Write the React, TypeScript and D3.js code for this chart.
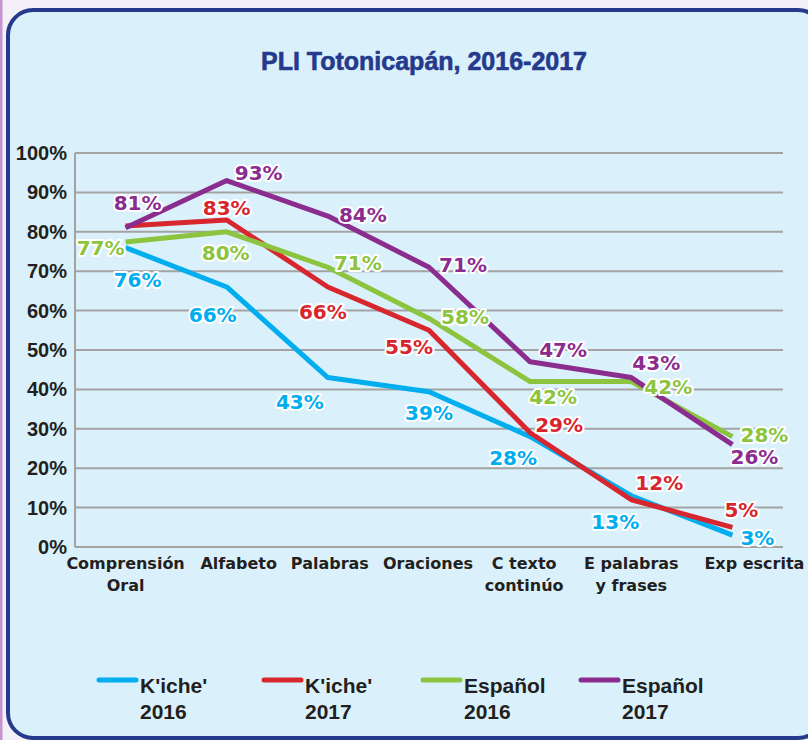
import React, {useEffect, useRef} from "react"
import * as d3 from "d3"

// categorias (lineas de cada etiqueta)
const categories = ["Comprensión Oral", "Alfabeto", "Palabras", "Oraciones", "C texto continúo", "E palabras y frases", "Exp escrita"]
const categoryLines = [["Comprensión", "Oral"], ["Alfabeto"], ["Palabras"], ["Oraciones"], ["C texto", "continúo"], ["E palabras", "y frases"], ["Exp escrita"]]
const categoryDx = [0, 12, 2, -1, -6, 0, 22] // ajuste horizontal de las etiquetas

// valores en %
const kiche2016 = [76, 66, 43, 39.4, 28, 13, 3]
const kiche2017 = [81.5, 83, 66, 55, 29, 12, 5]
const espanol2016 = [77.4, 80, 71, 58, 42, 42, 28]
const espanol2017 = [81, 93, 84, 71, 47, 43, 26]

const yTicks = [0, 10, 20, 30, 40, 50, 60, 70, 80, 90, 100]
const seriesNames = ["K'iche' 2016", "K'iche' 2017", "Español 2016", "Español 2017"]

// desplazamiento de las etiquetas (px) respecto al punto
const offsets: (number[] | null)[][] = [
    [[12, 32], [-14, 28], [-28, 24], [0, 21], [-17, 21], [-16, 26], [25, 3]],
    [null, [0, -12], [-5, 25], [-20, 17], [29, -8], [28, -17], [9, -17]],
    [[-25, 6], [-1, 21], [30, -4], [36, -1], [23, 15], [37, 5], [32, -2]],
    [[12, -25], [32, -8], [35, -1], [34, -2], [33, -12], [25, -15], [22, 12]],
]
const colors = ["#00aeef", "#d7262e", "#8cc43f", "#8b2c8f"]

export default function App() {
    const ref = useRef<SVGSVGElement>(null)

    useEffect(() => {
        const svg = d3.select(ref.current)
        svg.selectAll("*").remove()

        const values = [kiche2016, kiche2017, espanol2016, espanol2017]

        // fondo y tarjeta
        svg.append("rect").attr("width", 808).attr("height", 740).attr("fill", "#f3f1f7")
        svg.append("rect").attr("x", 0).attr("width", 2.5).attr("height", 740).attr("fill", "#c694d0")
        svg.append("rect")
            .attr("x", 8).attr("y", 10).attr("width", 815).attr("height", 728).attr("rx", 25)
            .attr("fill", "#daf1fb").attr("stroke", "#253a8c").attr("stroke-width", 4)

        svg.append("text")
            .attr("x", 424).attr("y", 70).attr("text-anchor", "middle")
            .attr("font-family", "Liberation Sans, Arial, sans-serif").attr("font-weight", "bold")
            .attr("font-size", 25).attr("fill", "#253a8c").attr("stroke", "#253a8c").attr("stroke-width", 0.6)
            .text("PLI Totonicapán, 2016-2017")

        const x = d3.scalePoint<string>().domain(categories).range([75, 783]).padding(0.5)
        const y = d3.scaleLinear().domain([0, 100]).range([547, 153])

        // rejilla
        svg.append("g").selectAll("line").data(yTicks).join("line")
            .attr("x1", 75).attr("x2", 783)
            .attr("y1", d => y(d)).attr("y2", d => y(d))
            .attr("stroke", "#a3a3a3").attr("stroke-width", 2)
        svg.append("line").attr("x1", 75).attr("x2", 75).attr("y1", y(100)).attr("y2", y(0))
            .attr("stroke", "#a3a3a3").attr("stroke-width", 2)

        svg.append("g").selectAll("text").data(yTicks).join("text")
            .attr("x", 67).attr("y", d => y(d) + 7).attr("text-anchor", "end")
            .attr("font-family", "Liberation Sans Narrow, Arial Narrow, sans-serif").attr("font-weight", "bold")
            .attr("font-size", 20).attr("fill", "#231f20")
            .text(d => d + "%")

        // etiquetas de categoria
        const cat = svg.append("g").selectAll("text").data(categories).join("text")
            .attr("text-anchor", "middle")
            .attr("font-family", "DejaVu Sans, sans-serif").attr("font-weight", "bold")
            .attr("font-size", 16).attr("fill", "#231f20")
        cat.each(function (d, i) {
            d3.select(this).selectAll("tspan").data(categoryLines[i]).join("tspan")
                .attr("x", x(d)! + categoryDx[i]).attr("y", (_, j) => 569 + j * 22)
                .text(t => t)
        })

        // lineas
        const line = d3.line<number>().x((_, i) => x(categories[i])!).y(d => y(d))
        values.forEach((vals, s) => {
            svg.append("path").attr("d", line(vals)!)
                .attr("fill", "none").attr("stroke", colors[s]).attr("stroke-width", 5)
                .attr("stroke-linejoin", "round")
        })

        // etiquetas de datos
        values.forEach((vals, s) => {
            const pts = vals.map((v, i) => ({v, i, off: offsets[s][i]})).filter(p => p.off !== null)
            svg.append("g").selectAll("text").data(pts).join("text")
                .attr("x", p => x(categories[p.i])! + p.off![0])
                .attr("y", p => y(p.v) + p.off![1] + 7)
                .attr("text-anchor", "middle")
                .attr("font-family", "DejaVu Sans, sans-serif").attr("font-weight", "bold")
                .attr("font-size", 20).attr("fill", colors[s])
                .attr("stroke", "white").attr("stroke-width", 4).attr("stroke-linejoin", "round")
                .attr("paint-order", "stroke")
                .text(p => d3.format(".0f")(p.v) + "%")
        })

        // leyenda
        const legendX = [99, 264, 423, 581]
        const leg = svg.append("g").selectAll("g").data(seriesNames).join("g")
            .attr("transform", (_, i) => `translate(${legendX[i]},680)`)
        leg.append("line").attr("x1", 0).attr("x2", 37)
            .attr("stroke", (_, i) => colors[i]).attr("stroke-width", 5).attr("stroke-linecap", "round")
        leg.append("text")
            .attr("font-family", "Liberation Sans, Arial, sans-serif").attr("font-weight", "bold")
            .attr("font-size", 21).attr("fill", "#231f20")
            .selectAll("tspan").data(d => d.split(" ")).join("tspan")
            .attr("x", 41).attr("y", (_, j) => 13 + j * 26)
            .text(t => t)
    }, [])

    return (
        <svg ref={ref} width={808} height={740} style={{position: "absolute", left: 0, top: 0}}></svg>
    )
}
